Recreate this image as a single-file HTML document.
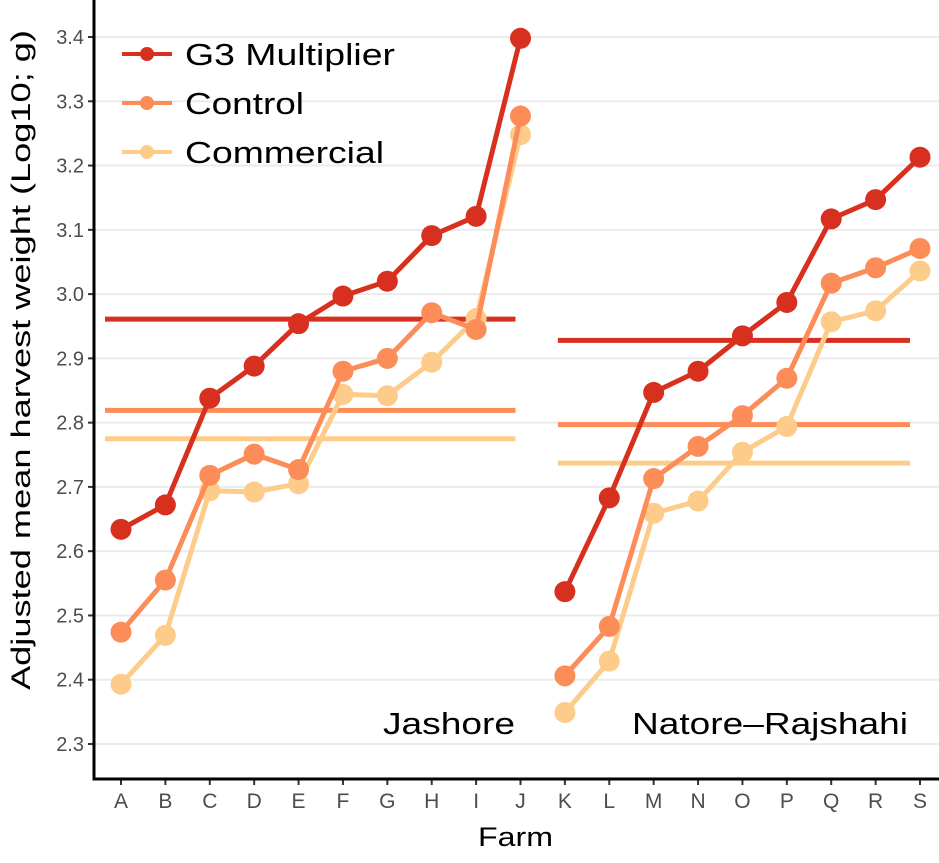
<!DOCTYPE html>
<html><head><meta charset="utf-8"><style>
body{margin:0;background:#fff;}
svg text{font-family:"Liberation Sans",Arial,sans-serif;}
</style></head><body>
<svg id="chart" width="939" height="858" xmlns="http://www.w3.org/2000/svg">
<g id="grid"></g><g id="means"></g><g id="series"></g><g id="axes"></g>
<g>
 <line x1="122" y1="54" x2="172" y2="54" stroke="#d7301f" stroke-width="4"/><circle cx="147" cy="54" r="7" fill="#d7301f"/>
 <text x="185" y="65" font-size="31" textLength="210" lengthAdjust="spacingAndGlyphs">G3 Multiplier</text>
 <line x1="122" y1="103" x2="172" y2="103" stroke="#fc8d59" stroke-width="4"/><circle cx="147" cy="103" r="7" fill="#fc8d59"/>
 <text x="185" y="114" font-size="31" textLength="119" lengthAdjust="spacingAndGlyphs">Control</text>
 <line x1="122" y1="152" x2="172" y2="152" stroke="#fdcc8a" stroke-width="4"/><circle cx="147" cy="152" r="7" fill="#fdcc8a"/>
 <text x="185" y="163" font-size="31" textLength="199" lengthAdjust="spacingAndGlyphs">Commercial</text>
</g>
<text x="383" y="734" font-size="31" textLength="132" lengthAdjust="spacingAndGlyphs">Jashore</text>
<text x="632" y="734" font-size="31" textLength="276" lengthAdjust="spacingAndGlyphs">Natore–Rajshahi</text>
<text x="478" y="846" font-size="27" textLength="75" lengthAdjust="spacingAndGlyphs">Farm</text>
<text transform="translate(30,690) rotate(-90)" font-size="27" textLength="660" lengthAdjust="spacingAndGlyphs">Adjusted mean harvest weight (Log10; g)</text>
</svg>
<script>
const farms=["A","B","C","D","E","F","G","H","I","J","K","L","M","N","O","P","Q","R","S"];
const g3=[2.634,2.672,2.838,2.888,2.954,2.997,3.020,3.091,3.121,3.398,2.537,2.683,2.847,2.880,2.935,2.987,3.117,3.147,3.213];
const control=[2.474,2.555,2.718,2.751,2.727,2.880,2.900,2.971,2.945,3.277,2.406,2.483,2.713,2.763,2.811,2.869,3.017,3.041,3.071];
const commercial=[2.393,2.469,2.694,2.692,2.705,2.844,2.842,2.894,2.962,3.248,2.349,2.429,2.659,2.678,2.754,2.794,2.957,2.974,3.036];
const meansJashore=[2.961,2.819,2.775];
const meansNatore=[2.928,2.797,2.737];
const yTicks=[2.3,2.4,2.5,2.6,2.7,2.8,2.9,3.0,3.1,3.2,3.3,3.4];
const NS="http://www.w3.org/2000/svg";
const X=i=>121+i*(920-121)/18;
const Y=v=>744-(v-2.3)*(744-37)/1.1;
function mk(t,a,p){const e=document.createElementNS(NS,t);for(const k in a)e.setAttribute(k,a[k]);p.appendChild(e);return e;}
const grid=document.getElementById('grid'),axes=document.getElementById('axes');
yTicks.forEach(v=>{
 const l=mk('line',{x1:95,x2:939,y1:Y(v),y2:Y(v),stroke:'#ebebeb','stroke-width':2},grid);
 
 
 const t=mk('text',{x:84,y:Y(v)+7,'font-size':20,'text-anchor':'end',fill:'#4d4d4d'},axes);t.textContent=v.toFixed(1);
 
 
 mk('line',{x1:88,x2:94,y1:Y(v),y2:Y(v),stroke:'#333','stroke-width':2},axes);
});
farms.forEach((f,i)=>{
 const t=mk('text',{x:X(i),y:808,'font-size':21,'text-anchor':'middle',fill:'#4d4d4d'},axes);t.textContent=f;
 
 
 mk('line',{x1:X(i),x2:X(i),y1:779,y2:785,stroke:'#333','stroke-width':2},axes);
});
const ax=mk('path',{d:'M94,0 V779 H939',fill:'none',stroke:'#000','stroke-width':3},axes);


const cols=['#d7301f','#fc8d59','#fdcc8a'];
const means=document.getElementById('means');
[[meansJashore,X(0)-16,X(9)-5],[meansNatore,X(10)-7,X(18)-10]].forEach(([m,x1,x2])=>{
 m.forEach((v,k)=>{const l=mk('line',{x1:x1,x2:x2,y1:Y(v),y2:Y(v),stroke:cols[k],'stroke-width':5},means);
 
 });
});
const ser=document.getElementById('series');
[commercial,control,g3].forEach((s,j)=>{
 const c=cols[2-j];
 [[0,10],[10,19]].forEach(([a,b])=>{
  let d='';for(let i=a;i<b;i++)d+=(i==a?'M':'L')+X(i)+','+Y(s[i]);
  const p=mk('path',{d:d,fill:'none',stroke:c,'stroke-width':5},ser);
  
  
 });
 s.forEach((v,i)=>{const e=mk('circle',{cx:X(i),cy:Y(v),r:10.5,fill:c},ser);
  
  });
});
</script>
</body></html>
